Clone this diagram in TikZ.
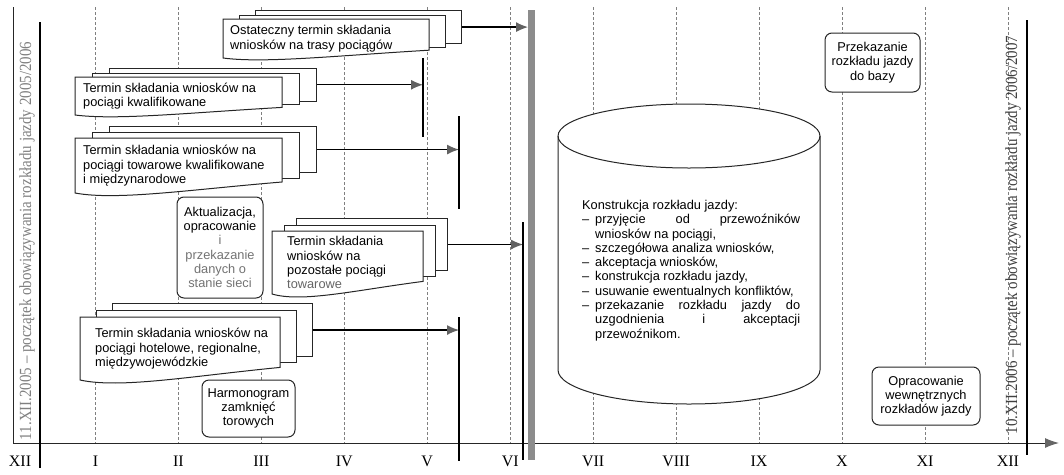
\documentclass[tikz,border=0pt]{standalone}
\usepackage{fontspec}
\setmainfont{Liberation Serif}
\setsansfont{Liberation Sans}
\usetikzlibrary{arrows.meta,positioning,calc}

\newcommand{\boxfont}{\sffamily\fontsize{12.8}{14.3}\selectfont}
\newcommand{\monthfont}{\rmfamily\fontsize{16}{18}\selectfont}
\newcommand{\lstdash}{\makebox[13pt][l]{–}}

% stack of three sheets: name, left, top, width, height, shift x, shift y, indent, text
\newcommand{\docstack}[9]{%
  \pgfmathsetmacro{\hback}{0.62*#5+2*#7}%
  \pgfmathsetmacro{\hmid}{0.72*#5+#7}%
  \node[layer, minimum width=#4pt, minimum height=\hback pt] (#1-3) at (#2+2*#6, #3-2*#7) {};
  \node[layer, minimum width=#4pt, minimum height=\hmid pt] (#1-2) at (#2+#6, #3-#7) {};
  \path[docline] (#2,#3) -- (#2+#4,#3) -- (#2+#4,#3+0.8*#5)
    .. controls (#2+0.55*#4,#3+0.94*#5) and (#2+0.2*#4,#3+1.14*#5) .. (#2,#3+#5) -- cycle;
  \node[doctext, minimum height=#5pt] (#1) at (#2+#8,#3) {#9};
}

\begin{document}
\begin{tikzpicture}[
  x=1pt, y=-1pt,
  layer/.style={draw=black!85, fill=white, line width=1pt, anchor=north west, inner sep=0pt},
  docline/.style={draw=black!85, fill=white, line width=1pt},
  doctext/.style={anchor=north west, align=left, inner sep=0pt, font=\boxfont},
  note/.style={draw=black!85, fill=white, line width=1pt, rounded corners=7pt,
               align=center, inner sep=0pt, font=\boxfont},
  monthline/.style={draw=black!50, line width=0.8pt, dash pattern=on 2.5pt off 2.5pt},
  month/.style={anchor=base, inner sep=0pt, font=\monthfont},
  bar/.style={line width=2.6pt},
  graybar/.style={fill=black!45},
  flow/.style={-{Latex[length=12pt,width=10pt,color=black!62]}, line width=1.2pt},
  axis/.style={-{Latex[length=14pt,width=10pt,color=black!60]}, line width=1pt, draw=black!85},
  datelabel/.style={rotate=90, inner sep=0pt, font=\rmfamily\fontsize{17}{20}\selectfont},
  cyl/.style={draw=black!85, fill=white, line width=1pt},
  listtext/.style={anchor=north west, align=left, inner sep=0pt, font=\boxfont}
]
\useasboundingbox (0,0) rectangle (1064,474);

% months
\foreach \m [count=\i] in {I,II,III,IV,V,VI,VII,VIII,IX,X,XI,XII} {
  \draw[monthline] ({12.5+82.95*\i},7) -- ({12.5+82.95*\i},443);
  \node[month] (mon\i) at ({12.5+82.95*\i},466) {\m};
}
\node[month] (mon0) at (20,466) {XII};

% axis
\coordinate (lefttop) at (13,7);
\coordinate (origin) at (13,443);
\coordinate (axisend) at (1059,443);
\draw[axis] (lefttop) -- (origin) -- (axisend);

% requests
\docstack{s1}{223}{19}{206}{39}{16}{4.5}{7}{Ostateczny termin składania\\wniosków na trasy pociągów}
\docstack{s2}{75}{77}{207}{38}{17}{4.5}{8}{Termin składania wniosków na\\pociągi kwalifikowane}
\docstack{s3}{75}{138}{207}{55}{17}{6}{8}{Termin składania wniosków na\\pociągi towarowe kwalifikowane\\i międzynarodowe}
\docstack{s4}{272}{231}{151}{63}{12}{6.5}{15}{Termin składania\\wniosków na\\pozostałe pociągi\\\textcolor{black!60}{towarowe}}
\docstack{s5}{80}{317}{200}{63}{16}{7}{15}{Termin składania wniosków na\\pociągi hotelowe, regionalne,\\międzywojewódzkie}

\node[note, minimum width=86pt, minimum height=101pt] (update) at (220,247.5)
  {Aktualizacja,\\opracowanie\\\textcolor{black!55}{i}\\\textcolor{black!55}{przekazanie}\\\textcolor{black!55}{danych o}\\\textcolor{black!55}{stanie sieci}};
\node[note, minimum width=93pt, minimum height=57pt] (closures) at (248.5,408.5) {Harmonogram\\zamknięć\\torowych};
\node[note, minimum width=95pt, minimum height=59pt] (database) at (872.5,62.5) {Przekazanie\\rozkładu jazdy\\do bazy};
\node[note, minimum width=108pt, minimum height=58pt] (internal) at (926,396) {Opracowanie\\wewnętrznych\\rozkładów jazdy};

% construction
\draw[cyl] (558,136) -- (558,370) arc[start angle=180, end angle=0, x radius=131, y radius=34]
  -- (820,136) arc[start angle=0, end angle=-180, x radius=131, y radius=32] -- cycle;
\draw[cyl, fill=none] (558,136) arc[start angle=180, end angle=0, x radius=131, y radius=32];
\node[listtext] (constr) at (582,200) {Konstrukcja rozkładu jazdy:\\
  \lstdash\makebox[205pt][s]{przyjęcie od przewoźników}\\
  \hspace*{13pt}wniosków na pociągi,\\
  \lstdash szczegółowa analiza wniosków,\\
  \lstdash akceptacja wniosków,\\
  \lstdash konstrukcja rozkładu jazdy,\\
  \lstdash usuwanie ewentualnych konfliktów,\\
  \lstdash\makebox[205pt][s]{przekazanie rozkładu jazdy do}\\
  \hspace*{13pt}\makebox[205pt][s]{uzgodnienia i akceptacji}\\
  \hspace*{13pt}przewoźnikom.};

% deadlines
\coordinate (barA) at (423,58);
\coordinate (barB) at (459,116);
\coordinate (barC) at (459,317);
\coordinate (barD) at (523,222);
\coordinate (gbar) at (528,10);
\draw[flow] (s1-3.east) -- (s1-3.east -| gbar);
\draw[flow] (s2-3.east) -- (s2-3.east -| barA);
\draw[flow] (s3-3.east) -- (s3-3.east -| barB);
\draw[flow] (s4-3.east) -- (s4-3.east -| barD);
\draw[flow] (s5-3.east) -- (s5-3.east -| barC);
\draw[bar] (barA) -- (423,137);
\draw[bar] (barB) -- (459,209);
\draw[bar] (barC) -- (459,461);
\draw[bar] (barD) -- (523,460);
\fill[graybar] (gbar) rectangle (535,460);
\draw[bar] (40,22) -- (40,468);
\draw[bar] (1027,20) -- (1027,455);

% timetable periods
\node[datelabel, text=black!50] (start) at (27,241)
  {\scalebox{0.88}[1]{11.XII.2005 – początek obowiązywania rozkładu jazdy 2005/2006}};
\node[datelabel, text=black!75] (next) at (1013,235)
  {\scalebox{0.88}[1]{10.XII.2006 – początek obowiązywania rozkładu jazdy 2006/2007}};
\end{tikzpicture}
\end{document}
